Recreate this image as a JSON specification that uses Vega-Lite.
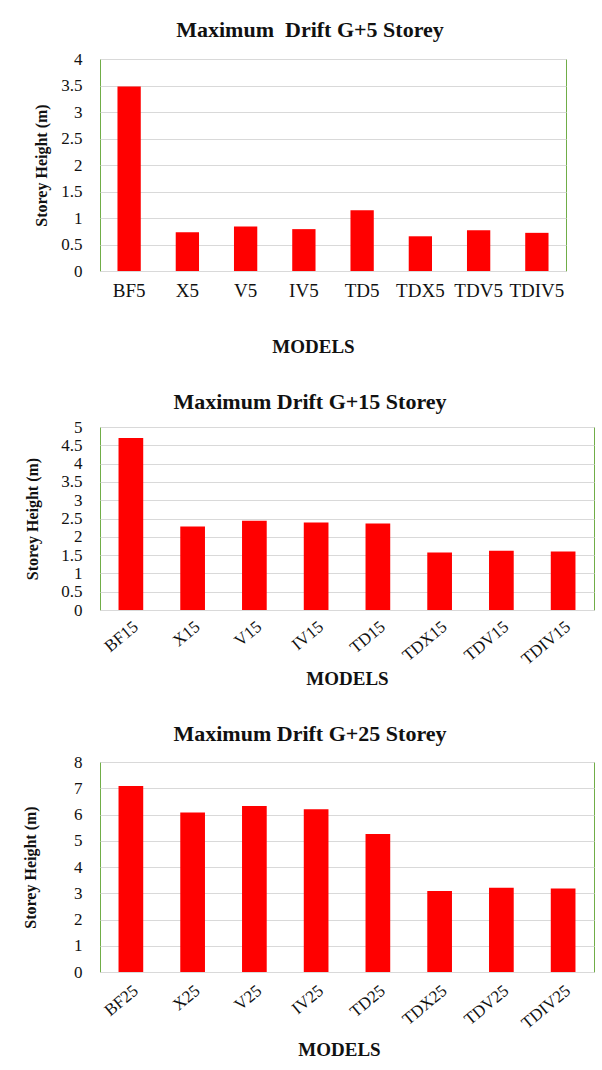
{
  "$schema": "https://vega.github.io/schema/vega-lite/v6.json",
  "padding": {"left": 22, "top": 18, "right": 0, "bottom": 0},
  "background": "white",
  "spacing": 33,
  "datasets": {
    "g5": [
      {"model": "BF5", "drift": 3.48},
      {"model": "X5", "drift": 0.73},
      {"model": "V5", "drift": 0.84},
      {"model": "IV5", "drift": 0.79},
      {"model": "TD5", "drift": 1.145},
      {"model": "TDX5", "drift": 0.655},
      {"model": "TDV5", "drift": 0.77},
      {"model": "TDIV5", "drift": 0.72}
    ],
    "g15": [
      {"model": "BF15", "drift": 4.7},
      {"model": "X15", "drift": 2.28},
      {"model": "V15", "drift": 2.44},
      {"model": "IV15", "drift": 2.39},
      {"model": "TD15", "drift": 2.36},
      {"model": "TDX15", "drift": 1.57},
      {"model": "TDV15", "drift": 1.62},
      {"model": "TDIV15", "drift": 1.6}
    ],
    "g25": [
      {"model": "BF25", "drift": 7.09},
      {"model": "X25", "drift": 6.08},
      {"model": "V25", "drift": 6.32},
      {"model": "IV25", "drift": 6.2},
      {"model": "TD25", "drift": 5.26},
      {"model": "TDX25", "drift": 3.09},
      {"model": "TDV25", "drift": 3.21},
      {"model": "TDIV25", "drift": 3.18}
    ]
  },
  "config": {
    "font": "'Liberation Serif', 'DejaVu Serif', serif",
    "view": {"stroke": "#70ad47", "strokeWidth": 1},
    "axis": {
      "labelFont": "'Liberation Serif', 'DejaVu Serif', serif",
      "titleFont": "'Liberation Serif', 'DejaVu Serif', serif",
      "labelColor": "#111",
      "titleColor": "#111",
      "titleFontWeight": "bold",
      "ticks": false,
      "tickSize": 0,
      "gridColor": "#d9d9d9",
      "gridWidth": 1,
      "domainColor": "#d9d9d9",
      "domainWidth": 1
    },
    "title": {"font": "'Liberation Serif', 'DejaVu Serif', serif", "fontWeight": "bold", "fontSize": 22, "color": "#111", "frame": "group", "anchor": "middle"},
    "bar": {"color": "#ff0000"}
  },
  "vconcat": [
    {
      "data": {"name": "g5"},
      "title": {"text": "Maximum\u00a0 Drift G+5 Storey", "dx": -23, "offset": 8},
      "width": 466,
      "height": 212,
      "mark": {"type": "bar"},
      "encoding": {
        "x": {
          "field": "model", "type": "nominal", "sort": null,
          "scale": {"paddingInner": 0.6, "paddingOuter": 0.3},
          "axis": {"title": "MODELS", "labelAngle": 0, "labelFontSize": 19, "labelPadding": 10, "titleFontSize": 19, "titlePadding": 37, "titleX": 213, "domain": true}
        },
        "y": {
          "field": "drift", "type": "quantitative",
          "scale": {"domain": [0, 4], "nice": false},
          "axis": {"title": "Storey Height (m)", "values": [0, 0.5, 1, 1.5, 2, 2.5, 3, 3.5, 4], "format": "~g", "labelFontSize": 17, "labelPadding": 18, "titleFontSize": 16, "titlePadding": 11, "domain": false}
        }
      }
    },
    {
      "data": {"name": "g15"},
      "title": {"text": "Maximum Drift G+15 Storey", "dx": -37, "offset": 4},
      "width": 494,
      "height": 183,
      "mark": {"type": "bar"},
      "encoding": {
        "x": {
          "field": "model", "type": "nominal", "sort": null,
          "scale": {"paddingInner": 0.6, "paddingOuter": 0.3},
          "axis": {"title": "MODELS", "labelAngle": -40, "labelAlign": "right", "labelBaseline": "top", "labelFontSize": 17, "labelPadding": 8, "titleFontSize": 19, "titlePadding": 2, "domain": true}
        },
        "y": {
          "field": "drift", "type": "quantitative",
          "scale": {"domain": [0, 5], "nice": false},
          "axis": {"title": "Storey Height (m)", "values": [0, 0.5, 1, 1.5, 2, 2.5, 3, 3.5, 4, 4.5, 5], "format": "~g", "labelFontSize": 17, "labelPadding": 18, "titleFontSize": 16, "titlePadding": 20, "domain": false}
        }
      }
    },
    {
      "data": {"name": "g25"},
      "title": {"text": "Maximum Drift G+25 Storey", "dx": -37, "offset": 7},
      "width": 494,
      "height": 210,
      "mark": {"type": "bar"},
      "encoding": {
        "x": {
          "field": "model", "type": "nominal", "sort": null,
          "scale": {"paddingInner": 0.6, "paddingOuter": 0.3},
          "axis": {"title": "MODELS", "labelAngle": -40, "labelAlign": "right", "labelBaseline": "top", "labelFontSize": 17, "labelPadding": 10, "titleFontSize": 19, "titlePadding": 9, "titleX": 239, "domain": true}
        },
        "y": {
          "field": "drift", "type": "quantitative",
          "scale": {"domain": [0, 8], "nice": false},
          "axis": {"title": "Storey Height (m)", "values": [0, 1, 2, 3, 4, 5, 6, 7, 8], "format": "~g", "labelFontSize": 17, "labelPadding": 18, "titleFontSize": 16, "titlePadding": 35, "domain": false}
        }
      }
    }
  ]
}
